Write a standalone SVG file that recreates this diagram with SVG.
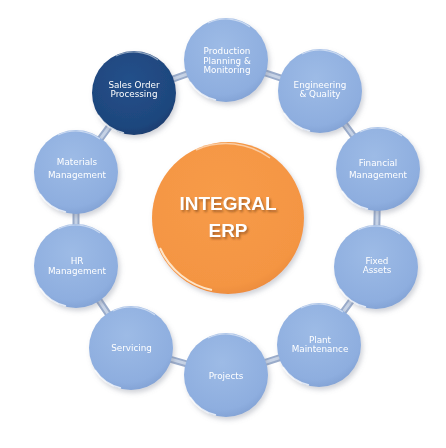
<svg xmlns="http://www.w3.org/2000/svg" width="446" height="448" viewBox="0 0 446 448">
<style>
.lbl{font-family:"DejaVu Sans","Liberation Sans",sans-serif;font-size:8.8px;fill:#ffffff;text-anchor:middle}
.big{font-family:"Liberation Sans",Arial,sans-serif;font-weight:bold;font-size:19px;fill:#ffffff;text-anchor:middle}
.bigsh{font-family:"Liberation Sans",Arial,sans-serif;font-weight:bold;font-size:19px;fill:#6b3a10;fill-opacity:0.55;text-anchor:middle}
.lb{fill:url(#gBlue)}
.db{fill:url(#gDark)}
.rim{fill:none;stroke:#ffffff;stroke-opacity:0.75;stroke-width:1.6}
.top{fill:none;stroke:#ffffff;stroke-opacity:0.5;stroke-width:1.2}
</style>
<defs>
<radialGradient id="gBlue" cx="0.45" cy="0.35" r="0.7">
<stop offset="0" stop-color="#9dbbe6"/>
<stop offset="0.8" stop-color="#8eaedf"/>
<stop offset="1" stop-color="#7f9fd2"/>
</radialGradient>
<radialGradient id="gDark" cx="0.45" cy="0.35" r="0.7">
<stop offset="0" stop-color="#24508a"/>
<stop offset="0.8" stop-color="#1e467d"/>
<stop offset="1" stop-color="#173a6b"/>
</radialGradient>
<radialGradient id="gOrange" cx="0.45" cy="0.35" r="0.7">
<stop offset="0" stop-color="#f79b48"/>
<stop offset="0.85" stop-color="#f49543"/>
<stop offset="1" stop-color="#e8883a"/>
</radialGradient>
<filter id="sh" x="-20%" y="-20%" width="150%" height="150%">
<feDropShadow dx="2" dy="3" stdDeviation="2.5" flood-color="#7a8090" flood-opacity="0.35"/>
</filter>
<filter id="tb" x="-10%" y="-30%" width="120%" height="160%">
<feGaussianBlur stdDeviation="0.8"/>
</filter>
</defs>
<rect width="446" height="448" fill="#ffffff"/>
<g id="connectors" fill="none" stroke-linecap="butt">
<path d="M134,93 L226,60 L320,91 L378,169 L376,267 L319,345 L226,375 L131,348 L76,266 L76,172 Z" stroke="#9aaccb" stroke-width="7"/>
<path d="M134,93 L226,60 L320,91 L378,169 L376,267 L319,345 L226,375 L131,348 L76,266 L76,172 Z" stroke="#c7d3e6" stroke-width="3"/>
</g>
<g id="center" filter="url(#sh)">
<circle cx="228" cy="218" r="76" fill="url(#gOrange)"/>
<path d="M160,248 A74,74 0 0 0 212,290" fill="none" stroke="#fff3e0" stroke-opacity="0.85" stroke-width="2"/>
<path d="M196,150 A74,74 0 0 1 270,158" fill="none" stroke="#ffffff" stroke-opacity="0.5" stroke-width="1.4"/>
<text class="bigsh" x="229.5" y="211.5" filter="url(#tb)">INTEGRAL</text>
<text class="bigsh" x="229.5" y="238.5" filter="url(#tb)">ERP</text>
<text class="big" x="228" y="210">INTEGRAL</text>
<text class="big" x="228" y="237">ERP</text>
</g>
<g id="production" filter="url(#sh)">
<circle class="lb" cx="226" cy="60" r="42"/>
<path class="rim" d="M190,82 A41,41 0 0 0 216,100"/>
<path class="top" d="M208,23 A41,41 0 0 1 250,27"/>
<text class="lbl" x="227" y="54">Production</text>
<text class="lbl" x="227" y="63.5">Planning &amp;</text>
<text class="lbl" x="227" y="73">Monitoring</text>
</g>
<g id="sales" filter="url(#sh)">
<circle class="db" cx="134" cy="93" r="42"/>
<path class="rim" d="M98,115 A41,41 0 0 0 124,133"/>
<path class="top" d="M116,56 A41,41 0 0 1 158,60"/>
<text class="lbl" x="134" y="88">Sales Order</text>
<text class="lbl" x="134" y="97">Processing</text>
</g>
<g id="engineering" filter="url(#sh)">
<circle class="lb" cx="320" cy="91" r="42"/>
<path class="rim" d="M284,113 A41,41 0 0 0 310,131"/>
<path class="top" d="M302,54 A41,41 0 0 1 344,58"/>
<text class="lbl" x="320" y="88">Engineering</text>
<text class="lbl" x="320" y="97">&amp; Quality</text>
</g>
<g id="financial" filter="url(#sh)">
<circle class="lb" cx="378" cy="169" r="42"/>
<path class="rim" d="M342,191 A41,41 0 0 0 368,209"/>
<path class="top" d="M360,132 A41,41 0 0 1 402,136"/>
<text class="lbl" x="378" y="166">Financial</text>
<text class="lbl" x="378" y="178">Management</text>
</g>
<g id="fixed" filter="url(#sh)">
<circle class="lb" cx="376" cy="267" r="42"/>
<path class="rim" d="M340,289 A41,41 0 0 0 366,307"/>
<path class="top" d="M358,230 A41,41 0 0 1 400,234"/>
<text class="lbl" x="377" y="264">Fixed</text>
<text class="lbl" x="377" y="273">Assets</text>
</g>
<g id="plant" filter="url(#sh)">
<circle class="lb" cx="319" cy="345" r="42"/>
<path class="rim" d="M283,367 A41,41 0 0 0 309,385"/>
<path class="top" d="M301,308 A41,41 0 0 1 343,312"/>
<text class="lbl" x="320" y="343">Plant</text>
<text class="lbl" x="320" y="352">Maintenance</text>
</g>
<g id="projects" filter="url(#sh)">
<circle class="lb" cx="226" cy="375" r="42"/>
<path class="rim" d="M190,397 A41,41 0 0 0 216,415"/>
<path class="top" d="M208,338 A41,41 0 0 1 250,342"/>
<text class="lbl" x="226" y="379">Projects</text>
</g>
<g id="servicing" filter="url(#sh)">
<circle class="lb" cx="131" cy="348" r="42"/>
<path class="rim" d="M95,370 A41,41 0 0 0 121,388"/>
<path class="top" d="M113,311 A41,41 0 0 1 155,315"/>
<text class="lbl" x="131.5" y="351">Servicing</text>
</g>
<g id="hr" filter="url(#sh)">
<circle class="lb" cx="76" cy="266" r="42"/>
<path class="rim" d="M40,288 A41,41 0 0 0 66,306"/>
<path class="top" d="M58,229 A41,41 0 0 1 100,233"/>
<text class="lbl" x="77" y="264">HR</text>
<text class="lbl" x="77" y="274">Management</text>
</g>
<g id="materials" filter="url(#sh)">
<circle class="lb" cx="76" cy="172" r="42"/>
<path class="rim" d="M40,194 A41,41 0 0 0 66,212"/>
<path class="top" d="M58,135 A41,41 0 0 1 100,139"/>
<text class="lbl" x="77" y="165">Materials</text>
<text class="lbl" x="77" y="178">Management</text>
</g>
</svg>
